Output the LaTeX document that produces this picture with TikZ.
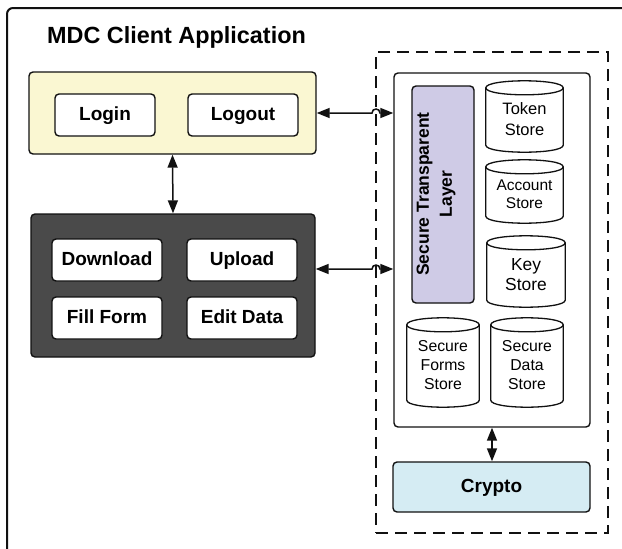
\documentclass[tikz,border=0pt]{standalone}
\usepackage{fontspec}
\setmainfont{Liberation Sans}
\usetikzlibrary{arrows.meta,calc}
\definecolor{appyellow}{HTML}{FAF7D2}
\definecolor{appdark}{HTML}{4A4A4A}
\definecolor{layerviolet}{HTML}{CFCBE6}
\definecolor{cryptoblue}{HTML}{D5ECF3}
\definecolor{ink}{HTML}{111111}

% a store drawn as a cylinder around a named node
\newcommand\storecyl[8]{%
  \node[inner sep=0pt, minimum width=#4pt, minimum height=#5pt] (#1) at (#2,#3) {};
  \filldraw[cylline] ($(#1.north west)+(0,7)$) -- ($(#1.south west)+(0,-7)$)
    .. controls ($(#1.south west)+(0,2.33)$) and ($(#1.south east)+(0,2.33)$) .. ($(#1.south east)+(0,-7)$)
    -- ($(#1.north east)+(0,7)$)
    .. controls ($(#1.north east)+(0,-2.33)$) and ($(#1.north west)+(0,-2.33)$) .. ($(#1.north west)+(0,7)$) -- cycle;
  \draw[cylline] ($(#1.north west)+(0,7)$)
    .. controls ($(#1.north west)+(0,16.33)$) and ($(#1.north east)+(0,16.33)$) .. ($(#1.north east)+(0,7)$);
  \node[align=center, inner sep=0pt, font=\fontsize{#6}{#7}\selectfont] (#1-text) at ([yshift=-3pt]#1.center) {#8};
}

\begin{document}
\begin{tikzpicture}[x=1pt, y=-1pt,
  panel/.style={draw=ink, line width=1.4pt, rounded corners=4pt, inner sep=0pt},
  btn/.style={panel, fill=white, font=\fontsize{19}{22}\selectfont\bfseries, text height=13.5pt, text depth=3.5pt},
  cylline/.style={draw=ink, fill=white, line width=1.3pt},
  link/.style={draw=ink, line width=1.5pt, {Triangle[length=13pt,width=10pt]}-{Triangle[length=13pt,width=10pt]}}]

\useasboundingbox (0,0) rectangle (622,549);

% outer application frame, running off the page to the right and bottom
\begin{scope}
  \clip (0,0) rectangle (622,549);
  \draw[ink, line width=2pt, rounded corners=6pt] (7,8) rectangle (660,590);
\end{scope}

\node[anchor=base west, inner sep=0pt, font=\fontsize{23.4}{28}\selectfont\bfseries] (title) at (47,43) {MDC Client Application};

% session panel
\node[panel, fill=appyellow, minimum width=287pt, minimum height=82pt] (session) at (172.5,113) {};
\node[btn, minimum width=100pt, minimum height=42pt] (login) at (105,115) {Login};
\node[btn, minimum width=110pt, minimum height=42pt] (logout) at (243,115) {Logout};

% data operations panel
\node[panel, fill=appdark, minimum width=284pt, minimum height=143pt] (ops) at (173,285.5) {};
\node[btn, minimum width=110pt, minimum height=42pt] (download) at (107,260) {Download};
\node[btn, minimum width=110pt, minimum height=42pt] (upload) at (242,260) {Upload};
\node[btn, minimum width=110pt, minimum height=42pt] (fillform) at (107,318) {Fill Form};
\node[btn, minimum width=110pt, minimum height=42pt] (editdata) at (242,318) {Edit Data};

% secure container
\node[draw=ink, line width=2pt, dash pattern=on 12pt off 7pt, minimum width=232pt, minimum height=481pt, inner sep=0pt] (secure) at (492,292.5) {};
\node[panel, fill=white, minimum width=196pt, minimum height=354pt] (vault) at (492,250) {};
\node[panel, fill=layerviolet, minimum width=62pt, minimum height=217pt] (layer) at (443,194.5) {};
\node[rotate=90, align=center, inner sep=0pt, font=\fontsize{17.5}{23}\selectfont\bfseries] (layer-text) at (436,194) {Secure Transparent\\Layer};

\storecyl{token}{524.5}{116.5}{77}{71}{16.5}{21}{Token\\Store}
\storecyl{account}{524.5}{191.5}{77}{63}{15.5}{18}{Account\\Store}
\storecyl{key}{526}{271.5}{78}{71}{17.4}{20}{Key\\Store}
\storecyl{forms}{443}{362.5}{72}{89}{15.8}{19}{Secure\\Forms\\Store}
\storecyl{datastore}{527}{362.5}{72}{89}{15.8}{19}{Secure\\Data\\Store}

\node[btn, fill=cryptoblue, minimum width=197pt, minimum height=50pt] (crypto) at (491.5,487) {Crypto};

% connectors
\draw[link] (session.south) -- (ops.north);
\draw[link] (vault.south) -- (vault.south |- crypto.north);

\coordinate (opsport) at (ops.east |- 0,269);
\draw[link] (session.east) -- (372,113) .. controls (372,107.7) and (380,107.7) .. (380,113) -- (vault.west |- session.east);
\draw[link] (opsport) -- (372,269) .. controls (372,263.7) and (380,263.7) .. (380,269) -- (vault.west |- opsport);

\end{tikzpicture}
\end{document}
